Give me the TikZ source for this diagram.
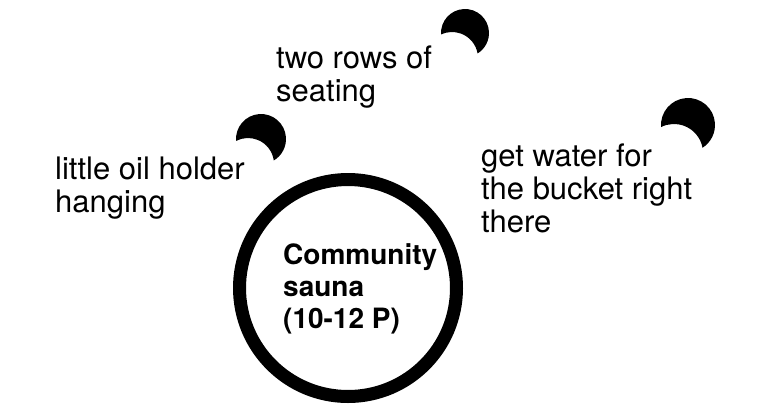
\documentclass[tikz,border=0pt]{standalone}
\usepackage{fontspec}
\setmainfont{TeX Gyre Heros}
\usetikzlibrary{calc}
\newcommand\moonshape[6]{%
  \pgfmathsetmacro\mD{veclen(#4-#1,#5-#2)}%
  \pgfmathsetmacro\mph{atan2(#5-#2,#4-#1)}%
  \pgfmathsetmacro\mxo{(\mD*\mD+#3*#3-#6*#6)/(2*\mD)}%
  \pgfmathsetmacro\maone{acos(\mxo/#3)}%
  \pgfmathsetmacro\matwo{acos((\mD-\mxo)/#6)}%
  \fill[black] ($(#1,#2)+(\mph+\maone:#3)$)
    arc[start angle=\mph+\maone, end angle=\mph+360-\maone, radius=#3]
    arc[start angle=\mph+180+\matwo, end angle=\mph+180-\matwo, radius=#6]
    -- cycle;}
\begin{document}
\begin{tikzpicture}[x=1pt,y=-1pt,
  lbl/.style={anchor=north west,inner sep=0pt,align=left,
    font=\fontsize{31}{33}\selectfont},
  hub/.style={circle,draw=black,line width=13pt,minimum size=217pt,inner sep=0pt},
  hubtext/.style={anchor=north west,inner sep=0pt,align=left,
    font=\fontsize{28}{32}\selectfont\bfseries}]
\useasboundingbox[fill=white] (0,0) rectangle (769,405);
\moonshape{261}{139}{25}{248}{164}{26}
\moonshape{465}{33}{24}{452}{58}{26}
\moonshape{688}{125}{27}{674}{153}{29}
\node[hub] (sauna) at (348,288) {};
\node[hubtext] (saunatext) at (283,243) {Community\\sauna\\(10-12 P)};
\node[lbl] (oil) at (55,157) {little oil holder\\hanging};
\node[lbl] (rows) at (276,46) {two rows of\\seating};
\node[lbl] (water) at (481,144) {get water for\\the bucket right\\there};
\end{tikzpicture}
\end{document}
